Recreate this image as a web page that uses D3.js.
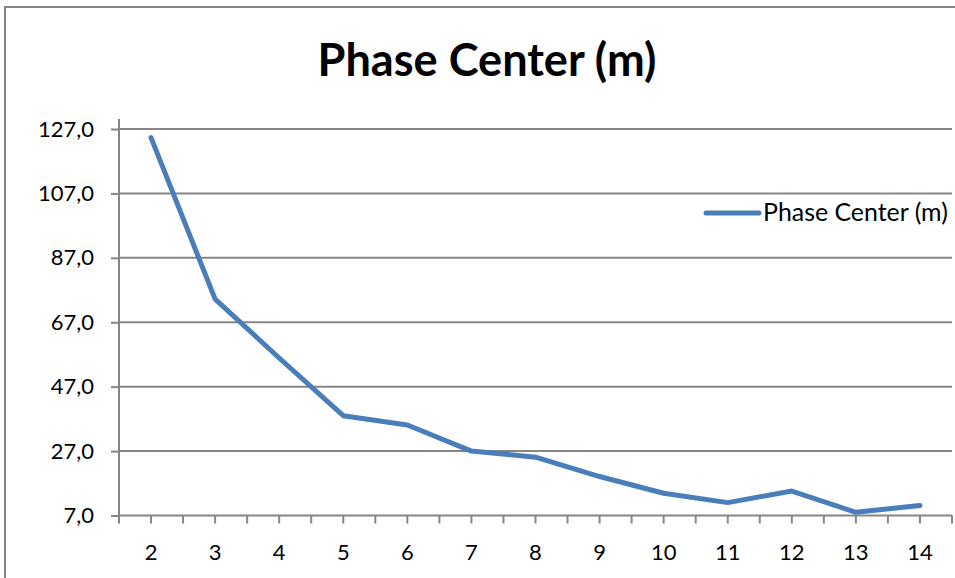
<!DOCTYPE html>
<html><head><meta charset="utf-8">
<script src="https://cdn.jsdelivr.net/npm/d3@7"></script>
<style>body{margin:0;background:#fff}svg{display:block}</style>
</head><body>
<script>
const categories = ["2","3","4","5","6","7","8","9","10","11","12","13","14"];
const values = [124.3, 74.2, 55.9, 38.0, 35.1, 27.0, 25.1, 19.1, 13.9, 11.0, 14.6, 8.0, 10.1];
const yTicks = [7, 27, 47, 67, 87, 107, 127];
const seriesName = "Phase Center (m)";
const title = "Phase Center (m)";

(function () {
const W = 955, H = 578;
const svg = d3.select("body").append("svg").attr("width", W).attr("height", H);
const font = "Lato, 'Open Sans', sans-serif";
const grey = "#868686";

svg.append("rect").attr("x", 5).attr("y", 7).attr("width", 970).attr("height", 600)
  .attr("fill", "#fff").attr("stroke", grey).attr("stroke-width", 2);

const pl = 119, pr = 952, pt = 129, pb = 515.5;
const x = d3.scaleBand().domain(categories).range([pl, pr]);
const y = d3.scaleLinear().domain([7, 127]).range([pb, pt]);

// gridlines
svg.append("g").selectAll("line").data(yTicks.filter(d => d !== 7)).join("line")
  .attr("x1", pl).attr("x2", pr).attr("y1", d => y(d)).attr("y2", d => y(d))
  .attr("stroke", grey).attr("stroke-width", 2);

// y axis
const yAxis = svg.append("g").attr("transform", `translate(${pl},0)`)
  .call(d3.axisLeft(y).tickValues(yTicks).tickSize(8).tickPadding(17)
    .tickFormat(d => d3.format(".1f")(d).replace(".", ",")));
yAxis.select(".domain").attr("stroke", grey).attr("stroke-width", 2).attr("d", `M0,${pt-10}V${pb}`);
yAxis.selectAll(".tick line").attr("stroke", grey).attr("stroke-width", 2);
yAxis.selectAll("text").attr("font-family", font).attr("font-size", 22).attr("fill", "#000");

// x axis
const xg = svg.append("g").attr("transform", `translate(0,${pb})`);
xg.append("line").attr("x1", pl).attr("x2", pr).attr("y1", 0).attr("y2", 0)
  .attr("stroke", grey).attr("stroke-width", 2);
const tickPos = [];
categories.forEach(c => { tickPos.push(x(c)); tickPos.push(x(c) + x.bandwidth() / 2); });
tickPos.push(pr);
xg.selectAll("line.t").data(tickPos).join("line").attr("class", "t")
  .attr("x1", d => d).attr("x2", d => d).attr("y1", 0).attr("y2", 8)
  .attr("stroke", grey).attr("stroke-width", 2);
xg.selectAll("text").data(categories).join("text")
  .attr("x", d => x(d) + x.bandwidth() / 2).attr("y", 44)
  .attr("text-anchor", "middle").attr("font-family", font).attr("font-size", 22).attr("fill", "#000")
  .text(d => d);

// line
const line = d3.line().x((d, i) => x(categories[i]) + x.bandwidth() / 2).y(d => y(d));
svg.append("path").datum(values).attr("d", line).attr("fill", "none")
  .attr("stroke", "#4A7EBB").attr("stroke-width", 5).attr("stroke-linecap", "round").attr("stroke-linejoin", "round");

// legend
svg.append("line").attr("x1", 706).attr("x2", 759).attr("y1", 213).attr("y2", 213)
  .attr("stroke", "#4A7EBB").attr("stroke-width", 5).attr("stroke-linecap", "round");
const lt = svg.append("text").attr("x", 763).attr("y", 221).attr("font-family", font).attr("font-size", 20)
  .attr("fill", "#000").text(seriesName);
const lw = lt.node().getComputedTextLength();
lt.attr("font-size", 20 * 185 / lw);

// title
const tt = svg.append("text").attr("x", 487).attr("y", 76).attr("text-anchor", "middle")
  .attr("font-family", font).attr("font-weight", "bold").attr("font-size", 40).attr("fill", "#000").text(title);
const tw = tt.node().getComputedTextLength();
tt.attr("font-size", 40 * 339 / tw);
})();
</script>
</body></html>
